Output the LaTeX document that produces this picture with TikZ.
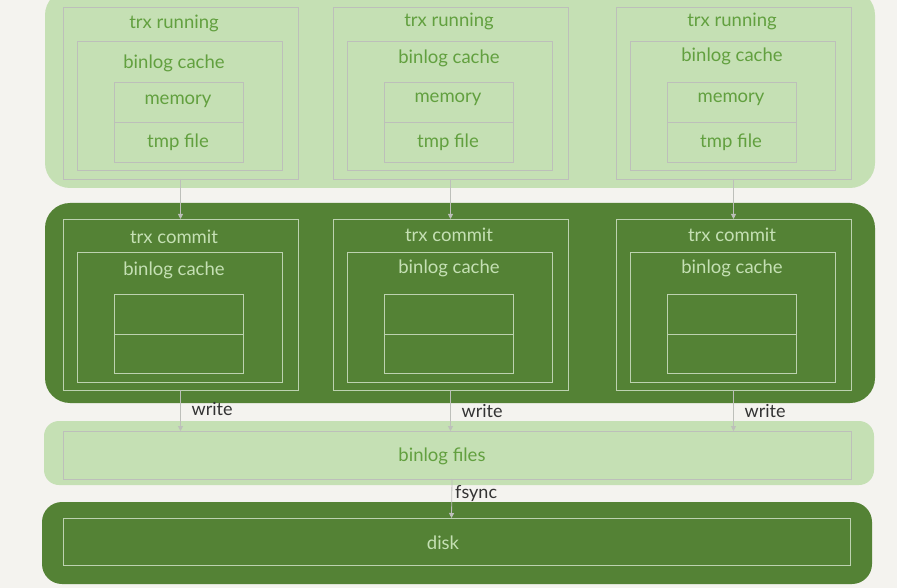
\documentclass[tikz,border=0pt]{standalone}
\usepackage{fontspec}
\setmainfont{Lato}
\usetikzlibrary{arrows.meta}
\definecolor{bg}{HTML}{F4F3EF}
\definecolor{lightg}{HTML}{C5E0B4}
\definecolor{darkg}{HTML}{548235}
\definecolor{ltxt}{HTML}{62A03F}
\definecolor{dtxt}{HTML}{C5E0B4}
\definecolor{gline}{HTML}{BDBFBA}
\definecolor{wline}{HTML}{BDD2B0}
\definecolor{wtxt}{HTML}{333333}
\begin{document}
\begin{tikzpicture}[x=1pt,y=-1pt,
  panel/.style={draw=none, rounded corners=#1, inner sep=0pt, outer sep=0pt},
  lbox/.style={draw=gline, line width=0.9pt, inner sep=0pt, outer sep=0pt, anchor=north west},
  dbox/.style={draw=wline, line width=0.9pt, inner sep=0pt, outer sep=0pt, anchor=north west},
  ltext/.style={text=ltxt, font=\fontsize{18.5}{20}\selectfont, inner sep=0pt},
  dtext/.style={text=dtxt, font=\fontsize{18.5}{20}\selectfont, inner sep=0pt},
  wlabel/.style={text=wtxt, font=\fontsize{18}{20}\selectfont, inner sep=0pt, anchor=west},
  conn/.style={draw=gline, line width=0.8pt, -{Triangle[width=5pt,length=5pt]}},
]
\useasboundingbox (0,0) rectangle (897,588);
\fill[bg] (0,0) rectangle (897,588);
\clip (0,0) rectangle (897,588);

% panels
\node[panel=25pt, fill=lightg, minimum width=830pt, minimum height=198pt, anchor=north west] (p1) at (45,-10) {};
\node[panel=25pt, fill=darkg, minimum width=830pt, minimum height=200pt, anchor=north west] (p2) at (45,203) {};
\node[panel=15pt, fill=lightg, minimum width=830pt, minimum height=64pt, anchor=north west] (p3) at (44,421) {};
\node[panel=20pt, fill=darkg, minimum width=830pt, minimum height=82pt, anchor=north west] (p4) at (42,502) {};

% bottom boxes
\node[lbox, minimum width=788pt, minimum height=48pt] (files) at (63,431) {};
\node[ltext] (filest) at (442,456) {binlog files};
\node[dbox, minimum width=787pt, minimum height=47pt] (disk) at (63,518) {};
\node[dtext] (diskt) at (443,543) {disk};

% columns
\foreach \i/\x/\da/\db/\dx in {1/63/0/0/-5, 2/333/-2/-5/0, 3/616/-2/-7/0} {
  % running
  \node[lbox, minimum width=235pt, minimum height=172pt] (run\i) at (\x,7) {};
  \node[lbox, minimum width=205pt, minimum height=129pt] (rc\i) at (\x+14,41) {};
  \node[lbox, minimum width=129pt, minimum height=40pt] (mem\i) at (\x+51,82) {};
  \node[lbox, minimum width=129pt, minimum height=40pt] (tmp\i) at (\x+51,122) {};
  \node[ltext] (runt\i) at (\x+116+\dx,23+\da) {trx running};
  \node[ltext] (rct\i) at (\x+116+\dx,63+\db) {binlog cache};
  \node[ltext] (memt\i) at (\x+115,101+\da) {memory};
  \node[ltext] (tmpt\i) at (\x+115,142) {tmp file};
  % commit
  \node[dbox, minimum width=235pt, minimum height=171pt] (com\i) at (\x,219) {};
  \node[dbox, minimum width=205pt, minimum height=130pt] (cc\i) at (\x+14,252) {};
  \node[dbox, minimum width=129pt, minimum height=40pt] (m2\i) at (\x+51,294) {};
  \node[dbox, minimum width=129pt, minimum height=39pt] (t2\i) at (\x+51,334) {};
  \node[dtext] (comt\i) at (\x+116+\dx,237+\da) {trx commit};
  \node[dtext] (cct\i) at (\x+116+\dx,270+\da) {binlog cache};
  % connectors
  \draw[conn] (run\i.south) -- (com\i.north);
  \draw[conn] (com\i.south) -- (com\i.south |- files.north);
  \node[wlabel] (wr\i) at ([xshift=11pt]com\i.south |- 0,{409-\da}) {write};
}
\draw[conn] ([xshift=-5pt]files.south) -- ([xshift=-5pt]disk.north);
\node[wlabel] (fs) at (455,493) {fsync};
\end{tikzpicture}
\end{document}
